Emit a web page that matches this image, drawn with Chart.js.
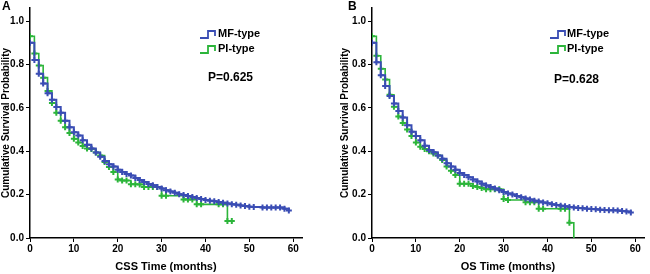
<!DOCTYPE html>
<html>
<head>
<meta charset="utf-8">
<script src="https://cdn.jsdelivr.net/npm/chart.js@4"></script>
<style>
body { margin: 0; background: #fff; }
#wrap { position: relative; width: 650px; height: 274px; }
canvas { position: absolute; top: 0; }
</style>
</head>
<body>
<div id="wrap">
  <canvas id="chartA" width="325" height="274" style="left:0"></canvas>
  <canvas id="chartB" width="325" height="274" style="left:325px"></canvas>
</div>
<script>
// Panel A - CSS
const mfTimeA = [0,1,2,3,4,5,6,7,8,9,10,11,12,13,14,15,16,17,18,19,20,21,22,23,24,25,26,27,28,29,30,31,32,33,34,35,36,37,38,39,40,41,42,43,44,45,46,47,48,49,50,51,53,54,55,56,57,58,59];
const mfSurvA = [0.90,0.82,0.757,0.712,0.667,0.637,0.604,0.577,0.54,0.51,0.487,0.472,0.45,0.43,0.412,0.394,0.375,0.355,0.34,0.33,0.315,0.304,0.295,0.288,0.277,0.267,0.258,0.249,0.243,0.235,0.228,0.22,0.214,0.208,0.202,0.198,0.193,0.189,0.184,0.18,0.175,0.172,0.169,0.166,0.162,0.159,0.156,0.153,0.15,0.147,0.144,0.143,0.141,0.14,0.14,0.14,0.14,0.135,0.127];
const piTimeA = [0,1,2,3,4,5,6,7,8,9,10,11,12,13,14,15,16,17,18,19,20,21,22,23,24,25,26,27,28,29,30,31,35,36,37,38,39,43,44,45,46];
const piSurvA = [0.93,0.85,0.795,0.739,0.678,0.622,0.577,0.54,0.51,0.484,0.457,0.44,0.424,0.412,0.41,0.394,0.38,0.35,0.327,0.304,0.27,0.265,0.265,0.248,0.248,0.247,0.235,0.235,0.235,0.235,0.195,0.195,0.178,0.178,0.178,0.155,0.155,0.155,0.155,0.078,0.078];

// Panel B - OS
const mfTimeB = [0,1,2,3,4,5,6,7,8,9,10,11,12,13,14,15,16,17,18,19,20,21,22,23,24,25,26,27,28,29,30,31,32,33,34,35,36,37,38,39,40,41,42,43,44,45,46,47,48,49,50,51,52,53,54,55,56,57,58,59];
const mfSurvB = [0.90,0.81,0.75,0.70,0.655,0.62,0.585,0.555,0.52,0.49,0.47,0.45,0.425,0.405,0.395,0.38,0.365,0.345,0.33,0.315,0.30,0.29,0.28,0.27,0.26,0.25,0.242,0.235,0.228,0.22,0.212,0.205,0.20,0.194,0.188,0.182,0.177,0.172,0.168,0.164,0.16,0.156,0.152,0.149,0.146,0.143,0.14,0.138,0.137,0.135,0.134,0.132,0.13,0.129,0.128,0.128,0.127,0.125,0.122,0.118];
const piTimeB = [0,1,2,3,4,5,6,7,8,9,10,11,12,13,14,15,16,17,18,19,20,21,22,23,24,25,26,27,28,29,30,31,35,36,37,38,39,43,44,45,46];
const piSurvB = [0.93,0.84,0.78,0.73,0.66,0.605,0.56,0.53,0.50,0.47,0.44,0.42,0.41,0.40,0.39,0.38,0.36,0.33,0.31,0.29,0.25,0.25,0.25,0.24,0.235,0.23,0.225,0.225,0.225,0.225,0.18,0.175,0.165,0.165,0.165,0.135,0.135,0.135,0.135,0.07,0.0];

const seriesNames = ['MF-type', 'PI-type'];
const xTicks = [0, 10, 20, 30, 40, 50, 60];
const yTicks = [0, 0.2, 0.4, 0.6, 0.8, 1.0];

const BLUE = '#3a4db4';
const GREEN = '#2cb53a';

Chart.defaults.font.family = '"Liberation Sans", Arial, sans-serif';
Chart.defaults.color = '#000';

function toPoints(times, surv) {
    return times.map((t, i) => ({ x: t, y: surv[i] }));
}

// legenda em escada + valor de P + letra do painel
const notesPlugin = {
    id: 'notes',
    afterDraw(chart, args, opts) {
        const ctx = chart.ctx;
        const left = chart.chartArea.left;
        ctx.save();
        ctx.fillStyle = '#000';
        ctx.font = 'bold 12px "Liberation Sans", Arial';
        ctx.textBaseline = 'top';
        ctx.fillText(opts.letter, opts.letterX, 1);

        const colors = [BLUE, GREEN];
        const rows = [opts.legY, opts.legY + 15];
        ctx.font = 'bold 11px "Liberation Sans", Arial';
        ctx.textBaseline = 'middle';
        rows.forEach((y, i) => {
            const x0 = left + opts.symX;
            ctx.strokeStyle = colors[i];
            ctx.lineWidth = 1.8;
            ctx.beginPath();
            ctx.moveTo(x0, y + 4);
            ctx.lineTo(x0 + 8, y + 4);
            ctx.lineTo(x0 + 8, y - 3);
            ctx.lineTo(x0 + 15, y - 3);
            ctx.lineTo(x0 + 15, y + 2);
            ctx.stroke();
            ctx.fillStyle = '#000';
            ctx.fillText(seriesNames[i], left + opts.textX, y);
        });
        ctx.font = 'bold 12px "Liberation Sans", Arial';
        ctx.fillText(opts.pText, left + opts.pX, opts.pY);
        ctx.restore();
    }
};

function makeChart(id, cfg) {
    const ctx = document.getElementById(id).getContext('2d');
    return new Chart(ctx, {
        type: 'line',
        data: {
            datasets: [
                {
                    label: seriesNames[0],
                    data: toPoints(cfg.mfTime, cfg.mfSurv),
                    borderColor: BLUE,
                    backgroundColor: BLUE,
                    borderWidth: 2,
                    stepped: true,
                    pointStyle: 'cross',
                    pointRadius: 3,
                    pointBorderWidth: 2,
                    pointBorderColor: BLUE
                },
                {
                    label: seriesNames[1],
                    data: toPoints(cfg.piTime, cfg.piSurv),
                    borderColor: GREEN,
                    backgroundColor: GREEN,
                    borderWidth: 1.6,
                    stepped: true,
                    pointStyle: 'cross',
                    pointRadius: c => (c.raw && c.raw.y === 0 ? 0 : 3),
                    pointBorderWidth: 2,
                    pointBorderColor: GREEN
                }
            ]
        },
        options: {
            responsive: false,
            animation: false,
            devicePixelRatio: 1,
            layout: { padding: { left: cfg.padLeft, right: cfg.padRight, top: 2, bottom: 0 } },
            plugins: {
                legend: { display: false },
                tooltip: { enabled: false },
                notes: cfg.notes
            },
            scales: {
                x: {
                    type: 'linear',
                    min: 0,
                    max: 62,
                    afterBuildTicks: s => { s.ticks = xTicks.map(v => ({ value: v })); },
                    afterFit: s => { s.height = 36; },
                    ticks: { font: { size: 10, weight: 'bold' }, padding: 1, maxRotation: 0 },
                    grid: { drawOnChartArea: false, drawTicks: true, tickLength: 4, color: '#000', lineWidth: 1 },
                    border: { color: '#000', width: 1.5 },
                    title: { display: true, text: cfg.xTitle, font: { size: 11, weight: 'bold' }, padding: 0 }
                },
                y: {
                    type: 'linear',
                    min: 0,
                    max: 1.06,
                    afterBuildTicks: s => { s.ticks = yTicks.map(v => ({ value: v })); },
                    afterFit: s => { s.width = cfg.yWidth; },
                    ticks: { font: { size: 10, weight: 'bold' }, padding: 2, callback: v => v.toFixed(1) },
                    grid: { drawOnChartArea: false, drawTicks: true, tickLength: 4, color: '#000', lineWidth: 1 },
                    border: { color: '#000', width: 1.5 },
                    title: { display: true, text: 'Cumulative Survival Probability', font: { size: 10, weight: 'bold' }, padding: 0 }
                }
            }
        },
        plugins: [notesPlugin]
    });
}

makeChart('chartA', {
    mfTime: mfTimeA, mfSurv: mfSurvA, piTime: piTimeA, piSurv: piSurvA,
    xTitle: 'CSS Time (months)',
    padLeft: 0, yWidth: 30, padRight: 23,
    notes: { letter: 'A', letterX: 2, symX: 170, textX: 188, legY: 34, pText: 'P=0.625', pX: 178, pY: 78 }
});

makeChart('chartB', {
    mfTime: mfTimeB, mfSurv: mfSurvB, piTime: piTimeB, piSurv: piSurvB,
    xTitle: 'OS Time (months)',
    padLeft: 14, yWidth: 33, padRight: 6,
    notes: { letter: 'B', letterX: 23, symX: 178, textX: 195, legY: 34, pText: 'P=0.628', pX: 182, pY: 80 }
});
</script>
</body>
</html>
